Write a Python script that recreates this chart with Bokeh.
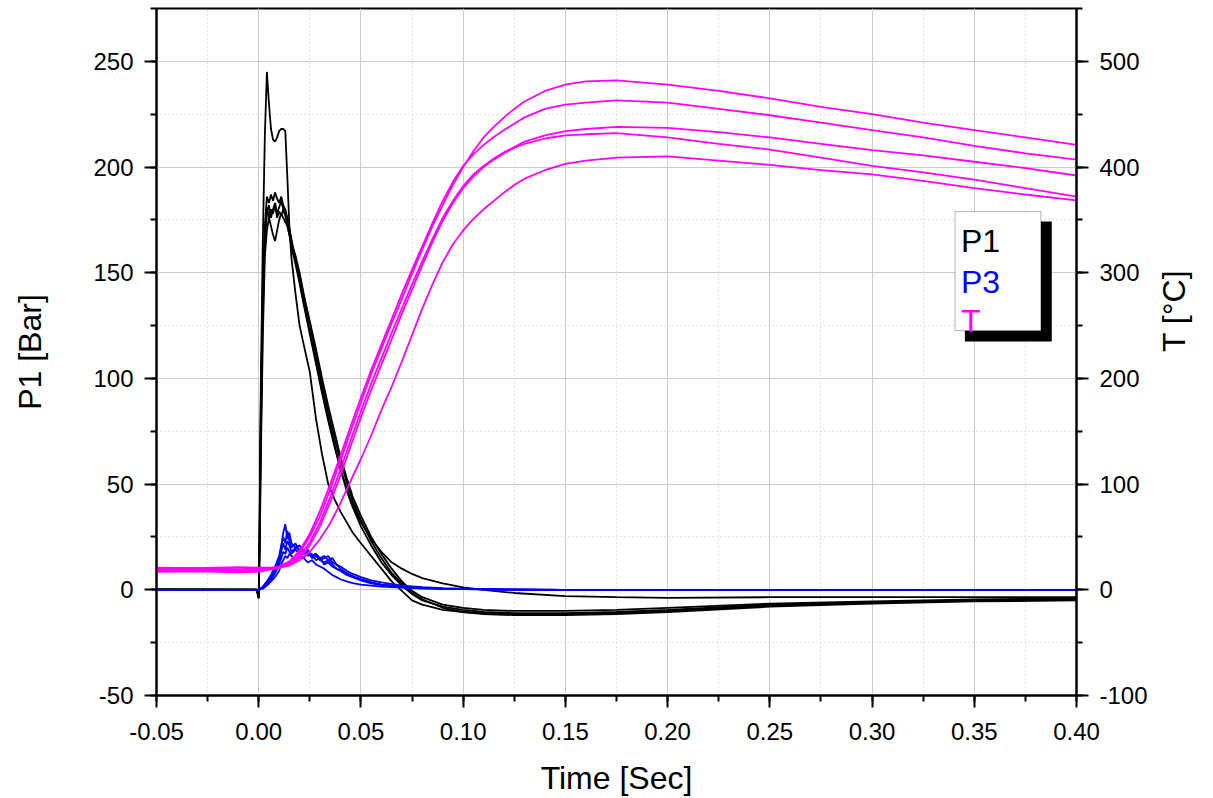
import math
from bokeh.plotting import figure
from bokeh.models import (Range1d, LinearAxis, SingleIntervalTicker, PrintfTickFormatter,
                          FixedTicker, BoxAnnotation, Label)
from bokeh.embed import file_html
from bokeh.resources import INLINE

# ---------------- data ----------------
P1_t = [-0.05, -0.02, -0.001, 0.0, 0.0005, 0.001, 0.002, 0.003, 0.004, 0.005, 0.006, 0.007,
        0.008, 0.009, 0.010, 0.011, 0.012, 0.013, 0.014, 0.015, 0.016, 0.018, 0.020, 0.022,
        0.025, 0.028, 0.031, 0.034, 0.037, 0.040, 0.043, 0.046, 0.050, 0.055, 0.060, 0.065,
        0.070, 0.075, 0.080, 0.090, 0.100, 0.110, 0.125, 0.150, 0.175, 0.200, 0.250, 0.300,
        0.350, 0.400]

P1_run1 = [0.3, 0.2, 0.2, -4, 40, 95, 165, 215, 245, 230, 218, 213, 212, 214, 217, 218, 218, 217,
           195, 172, 157, 140, 125, 116, 103, 81, 64, 50, 43, 37, 32, 27, 22, 16, 10, 4, -0.5, -5,
           -7, -9.5, -10.5, -11, -11.5, -11.5, -11, -10, -7.5, -6, -5, -4.5]
P1_run2 = [0, 0, 0.1, -3, 30, 80, 140, 172, 186, 183, 187, 184, 188, 185, 183, 186, 182, 180,
           176, 171, 166, 156, 146, 136, 122, 108, 94, 81, 69, 57, 47, 39, 30, 21, 13, 7, 2, -2,
           -5, -8, -9.5, -10.5, -11, -11, -10.5, -9.5, -7, -6, -5, -4.5]
P1_run3 = [0.2, 0.1, 0, -4, 25, 70, 130, 165, 178, 182, 176, 180, 183, 178, 181, 184, 180, 178,
           174, 170, 164, 158, 150, 140, 126, 111, 97, 84, 72, 61, 51, 42, 33, 23, 15, 8, 3, -1.5,
           -4.5, -8.5, -10.5, -11.5, -12, -12, -11.5, -10.5, -8, -6.5, -5.5, -5]
P1_run4 = [0, 0, 0, -3, 20, 60, 120, 158, 170, 176, 172, 168, 165, 170, 175, 178, 176, 174,
           172, 168, 164, 157, 148, 139, 127, 114, 100, 87, 75, 63, 53, 44, 35, 25, 17, 10, 4,
           -0.5, -3.5, -7, -8.5, -9.5, -10, -10, -9.5, -8.5, -6.5, -5.5, -4.5, -4]
P1_run5 = [0.1, 0.2, 0.1, -3.5, 35, 85, 145, 170, 181, 176, 180, 178, 182, 176, 179, 177, 180,
           177, 173, 168, 162, 154, 145, 135, 121, 107, 93, 80, 68, 57, 48, 40, 32, 24, 18, 13,
           10, 7.5, 5.5, 3, 1.2, 0, -1.5, -3, -3.5, -3.8, -3.5, -3.5, -3.5, -3.5]

P3_t = [-0.05, -0.001, 0.0, 0.002, 0.004, 0.006, 0.008, 0.010, 0.011, 0.012, 0.013, 0.014,
        0.015, 0.016, 0.018, 0.020, 0.022, 0.024, 0.026, 0.028, 0.030, 0.032, 0.034, 0.036,
        0.038, 0.040, 0.043, 0.046, 0.050, 0.055, 0.060, 0.070, 0.080, 0.090, 0.100, 0.120,
        0.150, 0.400]

P3_run1 = [0, 0, 0, 1, 3, 5, 8, 13, 20, 27, 31, 24, 27, 22, 20, 21, 18, 19, 16, 17, 15, 16, 14,
           15, 12, 11, 9, 7.5, 6, 4.5, 3.5, 2, 1.2, 0.8, 0.5, 0.2, 0, 0]
P3_run2 = [0, 0, 0, 1.5, 4, 7, 11, 16, 21, 25, 22, 28, 23, 20, 22, 18, 19, 16, 17, 14, 15, 12,
           13, 11, 10, 9, 7.5, 6, 5, 3.5, 2.5, 1.5, 1, 0.6, 0.4, 0.1, 0, 0]
P3_run3 = [0, 0, 0, 1, 2.5, 5, 8, 12, 15, 18, 17, 20, 18, 17, 19, 17, 15, 18, 16, 17, 14, 15,
           16, 13, 12, 10, 8, 6.5, 5, 3.5, 2.5, 1.5, 1, 0.6, 0.4, 0.1, 0, 0]
P3_run4 = [0, 0, 0, 0.5, 2, 4, 6, 9, 12, 14, 16, 15, 17, 16, 14, 16, 15, 13, 14, 12, 11, 10,
           8.5, 7, 6, 5, 4, 3.2, 2.5, 2, 1.5, 1, 0.6, 0.4, 0.3, 0.1, 0, 0]
P3_run5 = [0, 0, 0, 1, 3, 6, 9, 14, 18, 22, 19, 23, 21, 18, 20, 19, 17, 18, 15, 16, 14, 13, 14,
           12, 10, 9, 7, 6, 4.5, 3, 2.2, 1.3, 0.8, 0.5, 0.3, 0.1, 0, 0]

T_t = [-0.05, -0.03, -0.01, 0.0, 0.01, 0.015, 0.02, 0.025, 0.03, 0.035, 0.04, 0.045, 0.05,
       0.055, 0.06, 0.065, 0.07, 0.075, 0.08, 0.085, 0.09, 0.095, 0.10, 0.105, 0.11, 0.115,
       0.12, 0.125, 0.13, 0.14, 0.15, 0.16, 0.175, 0.20, 0.225, 0.25, 0.275, 0.30, 0.325,
       0.35, 0.375, 0.40]

T_run1 = [19, 19.5, 18.5, 19, 22, 26, 35, 50, 70, 95, 122, 150, 177, 204, 228,
          252, 275, 299, 322, 344, 364, 383, 400, 415, 428, 438, 447, 455, 462,
          472, 478, 481, 482, 478, 472, 465, 457, 450, 442, 435, 428, 421]
T_run2 = [18, 18.5, 17.5, 18, 22, 27, 37, 53, 75, 100, 127, 155, 182, 208, 232,
          256, 280, 303, 325, 347, 368, 386, 401, 412, 421, 428.5, 435, 441, 447,
          455, 459, 461, 463, 461, 455, 449, 442, 435, 428, 420, 413, 407]
T_run3 = [20, 20.5, 19.5, 20, 21, 25, 32, 45, 64, 88, 114, 142, 169, 195, 219,
          243, 266, 289, 311, 332, 352, 368, 382, 393, 401, 408, 414, 419, 424,
          430, 434, 436, 438, 437, 433, 428, 422, 416, 411, 405, 399, 392]
T_run4 = [21, 20.5, 21.5, 21, 21, 24, 30, 42, 60, 83, 108, 136, 163, 189, 213,
          237, 261, 284, 307, 329, 349, 366, 380, 391, 400, 407, 413, 418, 422,
          427, 430, 431, 432, 428, 422, 416.5, 409, 401, 395, 388, 380, 372]
T_run5 = [17, 17.5, 16.5, 17, 21, 23, 28, 36, 48, 63, 82, 103, 124, 146, 170,
          192, 216, 241, 266, 289, 310, 327, 340, 351, 360, 368, 376, 383, 389,
          397, 403, 406, 409, 410, 406, 402, 397, 393, 387, 380, 374, 368.5]

legend_names = ["P1", "P3", "T"]
legend_colors = ["#000000", "#0000ff", "#ff00ff"]
x_title = "Time [Sec]"
y_title = "P1 [Bar]"
y2_title = "T [°C]"

# ---------------- figure ----------------
FONT = "Liberation Sans"
W, H = 1212, 798
p = figure(width=W, height=H, x_range=Range1d(-0.05, 0.40), y_range=Range1d(-50, 275),
           output_backend="svg", toolbar_location=None,
           min_border_left=156, min_border_right=W - 1077, min_border_top=8,
           min_border_bottom=H - 695)
p.extra_y_ranges = {"T": Range1d(-100, 550)}
p.background_fill_color = "white"
p.border_fill_color = "white"
p.outline_line_color = "black"
p.outline_line_width = 2
p.outline_line_alpha = 1

for g in (p.xgrid, p.ygrid):
    g.grid_line_color = "#cccccc"
    g.grid_line_width = 1
    g.minor_grid_line_color = "#c8c8c8"
    g.minor_grid_line_dash = "1 3"
    g.minor_grid_line_width = 1

def style_axis(ax):
    ax.axis_line_width = 2
    ax.axis_line_color = "black"
    ax.major_tick_line_width = 2
    ax.minor_tick_line_width = 2
    ax.major_tick_out = 12
    ax.major_tick_in = 0
    ax.minor_tick_out = 6
    ax.minor_tick_in = 0
    ax.major_label_text_font = FONT
    ax.major_label_text_font_size = "24px"
    ax.major_label_text_color = "black"
    ax.axis_label_text_font = FONT
    ax.axis_label_text_font_size = "32px"
    ax.axis_label_text_font_style = "normal"
    ax.axis_label_text_color = "black"

xax = p.xaxis[0]
xax.ticker = SingleIntervalTicker(interval=0.05, num_minor_ticks=2)
xax.formatter = PrintfTickFormatter(format="%.2f")
style_axis(xax)
xax.major_label_standoff = 15
xax.axis_label = x_title
xax.axis_label_standoff = 17

yax = p.yaxis[0]
yax.ticker = SingleIntervalTicker(interval=50, num_minor_ticks=2)
yax.formatter = PrintfTickFormatter(format="%d")
style_axis(yax)
yax.major_label_standoff = 11
yax.axis_label = y_title
yax.axis_label_standoff = 42

rax = LinearAxis(y_range_name="T",
                 ticker=SingleIntervalTicker(interval=100, num_minor_ticks=2),
                 formatter=PrintfTickFormatter(format="%d"))
style_axis(rax)
rax.major_label_standoff = 11
p.add_layout(rax, "right")

# title holder for the right side: an axis without ticks, reading bottom to top
tax = LinearAxis(y_range_name="T", ticker=FixedTicker(ticks=[]))
style_axis(tax)
tax.axis_line_color = None
tax.major_tick_out = 0
tax.minor_tick_out = 0
tax.major_label_standoff = 0
tax.axis_label = y2_title
tax.axis_label_standoff = 23
tax.axis_label_text_line_height = 1.0
try:
    tax.axis_label_orientation = math.pi / 2
except AttributeError:
    pass
p.add_layout(tax, "right")

for run in (P1_run1, P1_run2, P1_run3, P1_run4, P1_run5):
    p.line(P1_t, run, line_color=legend_colors[0], line_width=1.8)
for run in (P3_run1, P3_run2, P3_run3, P3_run4, P3_run5):
    p.line(P3_t, run, line_color=legend_colors[1], line_width=1.8)
for run in (T_run1, T_run2, T_run3, T_run4, T_run5):
    p.line(T_t, run, line_color=legend_colors[2], line_width=1.8, y_range_name="T")

# ---------------- legend (box with shadow, coloured text) ----------------
p.add_layout(BoxAnnotation(left=0.3454, right=0.3879, top=174.2, bottom=117.5,
                           fill_color="black", fill_alpha=1, line_color=None))
p.add_layout(BoxAnnotation(left=0.3406, right=0.3826, top=178.9, bottom=122.6,
                           fill_color="white", fill_alpha=1, line_color="black", line_width=1))
leg_y = [165.2, 145.8, 127.3]
for name, col, yy in zip(legend_names, legend_colors, leg_y):
    p.add_layout(Label(x=0.3435, y=yy, text=name, text_color=col, text_font=FONT,
                       text_font_size="32px", text_baseline="alphabetic"))

open("out.html", "w").write(file_html(p, INLINE))
